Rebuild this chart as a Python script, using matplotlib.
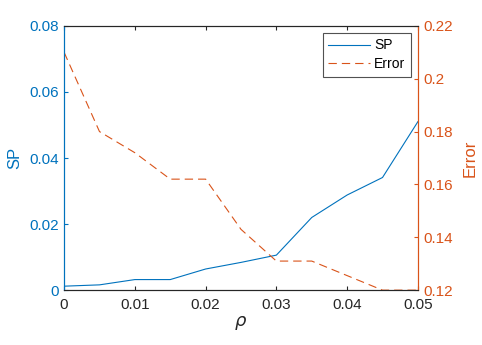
import matplotlib
matplotlib.use('Agg')
from matplotlib import pyplot as plt

rho = [0, 0.005, 0.01, 0.015, 0.02, 0.025, 0.03, 0.035, 0.04, 0.045, 0.05]
sp = [0.0012, 0.0016, 0.0032, 0.0032, 0.0064, 0.0084, 0.0106, 0.022, 0.0288, 0.0341, 0.051]
err = [0.21, 0.18, 0.172, 0.162, 0.162, 0.143, 0.131, 0.131, 0.1255, 0.12, 0.12]

blue = '#0072BD'
orange = '#D95319'
gray = '#262626'

plt.rcParams['font.family'] = ['Liberation Sans', 'DejaVu Sans']
plt.rcParams['mathtext.fontset'] = 'dejavusans'

fig = plt.figure(figsize=(4.82, 3.45), dpi=100)
ax = fig.add_axes([0.133, 0.159, 0.734, 0.766])
ax2 = ax.twinx()

l1, = ax.plot(rho, sp, color=blue, lw=0.8, label='SP')
l2, = ax2.plot(rho, err, color=orange, lw=0.8, ls=(0, (7.5, 4.5)), label='Error')

ax.set_xlim(0, 0.05)
ax.set_ylim(0, 0.08)
ax2.set_ylim(0.12, 0.22)
ax.set_xticks([0, 0.01, 0.02, 0.03, 0.04, 0.05])
ax.set_xticklabels(['0', '0.01', '0.02', '0.03', '0.04', '0.05'])
ax.set_yticks([0, 0.02, 0.04, 0.06, 0.08])
ax.set_yticklabels(['0', '0.02', '0.04', '0.06', '0.08'])
ax2.set_yticks([0.12, 0.14, 0.16, 0.18, 0.2, 0.22])
ax2.set_yticklabels(['0.12', '0.14', '0.16', '0.18', '0.2', '0.22'])

ax.tick_params(axis='x', direction='in', top=True, colors=gray, labelsize=11, length=3, pad=6)
ax.tick_params(axis='y', direction='in', colors=blue, labelsize=11, length=3, pad=4)
ax2.tick_params(axis='y', direction='in', colors=orange, labelsize=11, length=3, pad=4)

for a in (ax, ax2):
    a.spines['top'].set_color(gray)
    a.spines['bottom'].set_color(gray)
    a.spines['left'].set_color(blue)
    a.spines['right'].set_color(orange)
    for s in a.spines.values():
        s.set_linewidth(0.8)

ax.set_ylabel('SP', color=blue, fontsize=12, labelpad=5)
ax2.set_ylabel('Error', color=orange, fontsize=12, labelpad=7)
ax.set_xlabel(r'$\rho$', color=gray, fontsize=13, labelpad=1)

leg = ax2.legend([l1, l2], ['SP', 'Error'], loc='upper right', fontsize=10,
                 frameon=True, fancybox=False, edgecolor=gray,
                 borderaxespad=0.5, handlelength=3.0, handletextpad=0.3,
                 labelspacing=0.35, borderpad=0.4)
leg.get_frame().set_linewidth(0.8)

fig.savefig('out.png', dpi=100)
